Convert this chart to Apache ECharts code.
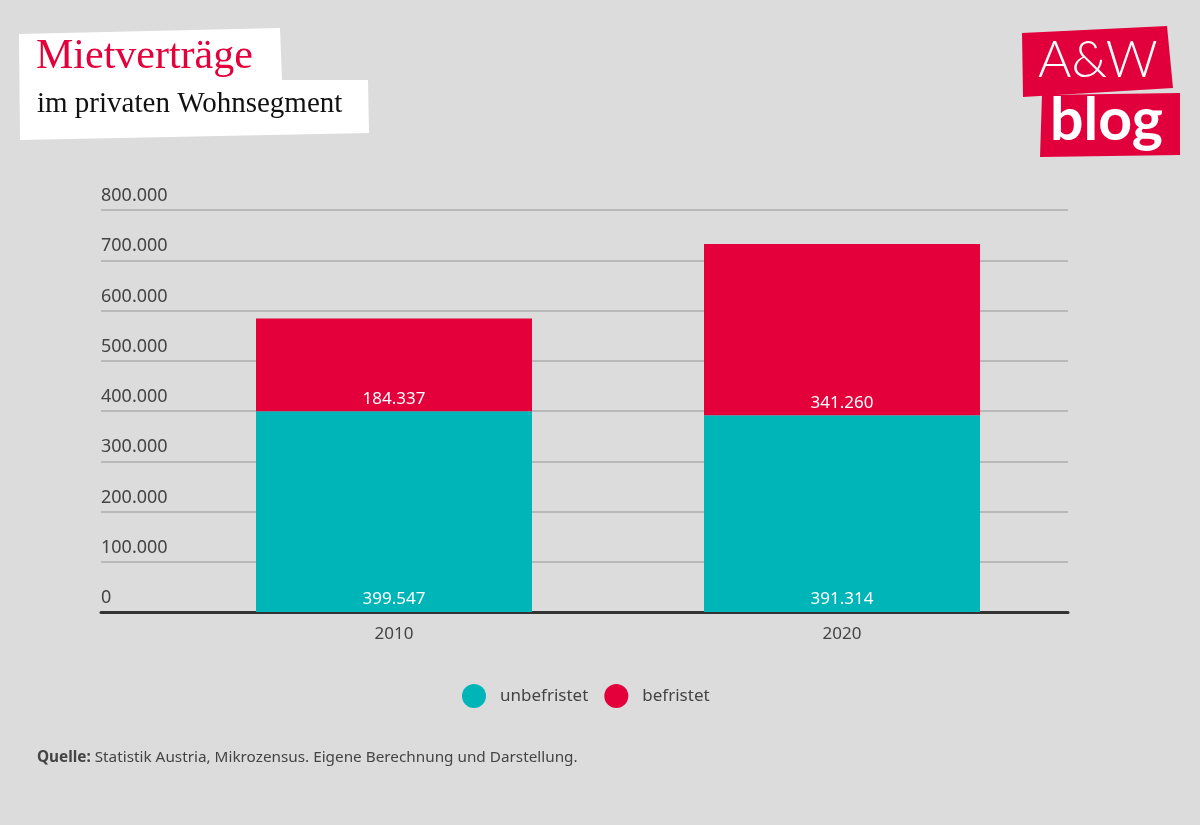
<!DOCTYPE html>
<html><head><meta charset="utf-8">
<script src="https://cdn.jsdelivr.net/npm/echarts@6/dist/echarts.min.js"></script>
<style>html,body{margin:0;padding:0;background:#dcdcdc}#c{width:1200px;height:825px}</style>
</head><body><div id="c"></div>
<script>
const categories = ['2010', '2020'];
const unbefristet = [399547, 391314];
const befristet = [184337, 341260];
const seriesNames = ['unbefristet', 'befristet'];
const yTicks = [0, 100000, 200000, 300000, 400000, 500000, 600000, 700000, 800000];

const fmt = v => String(v).replace(/\B(?=(\d{3})+(?!\d))/g, '.');
const TEAL = '#00b5b8', RED = '#e4003b';
const FONT = 'Noto Sans';

const chart = echarts.init(document.getElementById('c'), null, {renderer: 'canvas'});
chart.setOption({
  backgroundColor: '#dcdcdc',
  animation: false,
  textStyle: {fontFamily: FONT},
  grid: [
    {left: 101, right: 132, top: 210, bottom: 213},
    {left: 170, right: 134, top: 210, bottom: 213}
  ],
  xAxis: [
    {gridIndex: 0, type: 'category', data: categories.map(() => ''), axisTick: {show: false},
     axisLabel: {show: false}, axisLine: {lineStyle: {color: '#333', width: 3}}},
    {gridIndex: 1, type: 'category', data: categories, axisTick: {show: false},
     axisLine: {show: false},
     axisLabel: {color: '#444', fontSize: 17, margin: 14, fontFamily: FONT}}
  ],
  yAxis: [
    {gridIndex: 0, type: 'value', min: yTicks[0], max: yTicks[yTicks.length - 1], interval: 100000,
     axisLine: {show: false}, axisTick: {show: false},
     splitLine: {lineStyle: {color: '#b9b9b9', width: 2}},
     axisLabel: {inside: true, margin: 0, align: 'left', verticalAlign: 'bottom',
       padding: [0, 0, 5, 0], color: '#444', fontSize: 18, fontFamily: FONT, formatter: fmt}},
    {gridIndex: 1, type: 'value', min: yTicks[0], max: yTicks[yTicks.length - 1], interval: 100000,
     show: false, splitLine: {show: false}}
  ],
  legend: {
    left: 457, top: 679, icon: 'circle', itemWidth: 24, itemHeight: 24, itemGap: 16,
    data: seriesNames,
    textStyle: {color: '#444', fontSize: 17, fontFamily: FONT, padding: [0, 0, 0, 9]}
  },
  series: [
    {name: seriesNames[0], type: 'bar', stack: 'a', xAxisIndex: 1, yAxisIndex: 1, data: unbefristet,
     barWidth: 276, itemStyle: {color: TEAL},
     label: {show: true, position: 'insideBottom', distance: 4, color: '#fff', fontSize: 17, fontFamily: FONT, formatter: p => fmt(p.value)}},
    {name: seriesNames[1], type: 'bar', stack: 'a', xAxisIndex: 1, yAxisIndex: 1, data: befristet,
     barWidth: 276, itemStyle: {color: RED},
     label: {show: true, position: 'insideBottom', distance: 4, color: '#fff', fontSize: 17, fontFamily: FONT, formatter: p => fmt(p.value)}}
  ],
  graphic: [
    {type: 'polygon', shape: {points: [[19,34],[280,28],[282,80],[368,80],[369,133],[20,140]]},
     style: {fill: '#fff'}, z: 0},
    {type: 'text', left: 36, top: 36, style: {text: 'Mietverträge', fill: '#e4003b',
      font: '42px "Liberation Serif"'}},
    {type: 'text', left: 37, top: 90, style: {text: 'im privaten Wohnsegment', fill: '#111',
      font: '29px "Liberation Serif"'}},
    {type: 'polygon', shape: {points: [[1022,33],[1167,26],[1173,88],[1023,97]]}, style: {fill: '#e2003c'}},
    {type: 'polygon', shape: {points: [[1042,95],[1180,93],[1180,155],[1040,157]]}, style: {fill: '#e2003c'}},
    {type: 'text', left: 1038, top: 35, style: {text: 'A&W', fill: '#fff', font: '300 51px Lato'}},
    {type: 'text', left: 1050, top: 91, style: {text: 'blog', fill: '#fff', font: 'bold 59px Lato'}},
    {type: 'text', left: 37, top: 750, style: {
      text: '{b|Quelle:} Statistik Austria, Mikrozensus. Eigene Berechnung und Darstellung.',
      fill: '#444', font: '15.3px "Noto Sans"',
      rich: {b: {fontWeight: 'bold', fontSize: 15.3, fontFamily: 'Noto Sans', fill: '#444'}}}}
  ]
});
</script></body></html>
